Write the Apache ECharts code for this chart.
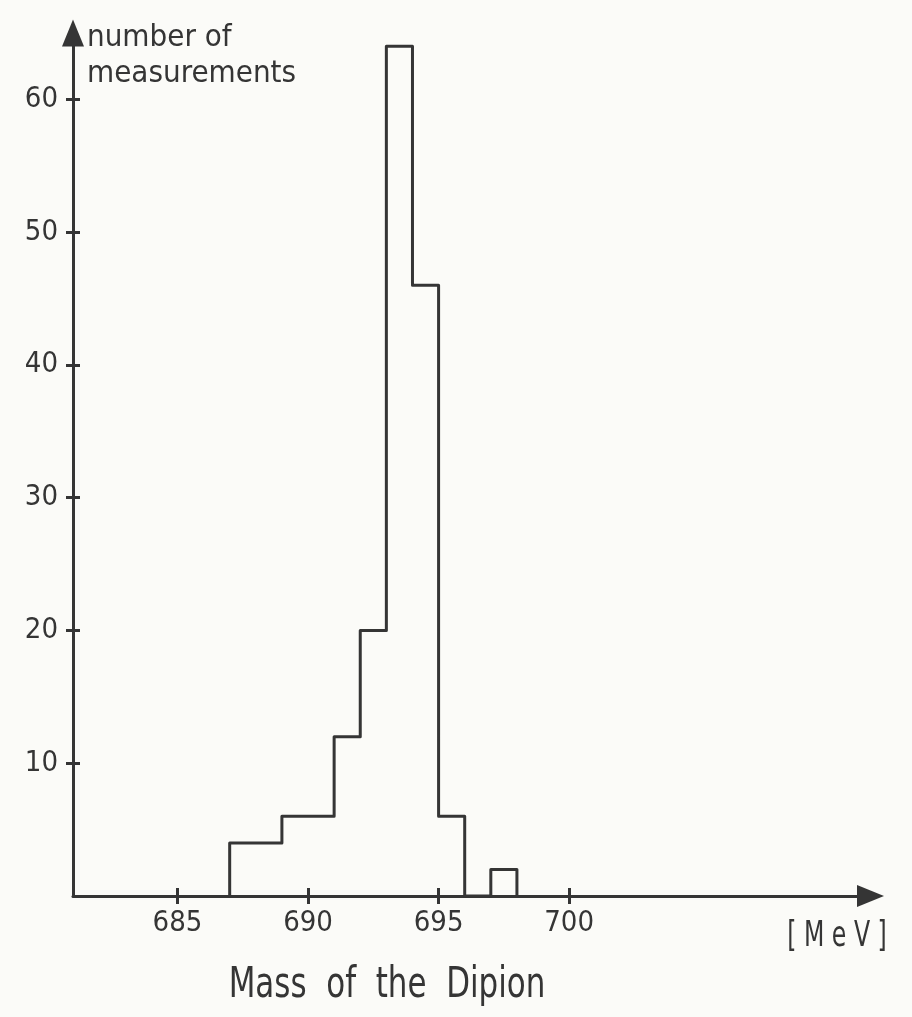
<!DOCTYPE html>
<html>
<head>
<meta charset="utf-8">
<script src="https://cdn.jsdelivr.net/npm/echarts@6/dist/echarts.min.js"></script>
<style>
html,body{margin:0;padding:0;background:#fbfbf8;}
#main{width:912px;height:1017px;}
</style>
</head>
<body>
<div id="main"></div>
<script>
//------------------ data ------------------
// 1 MeV bins, left edge of each bin
var binStart = [687, 688, 689, 690, 691, 692, 693, 694, 695, 696, 697];
var counts   = [4, 4, 6, 6, 12, 20, 64, 46, 6, 0, 2];
var binWidth = 1;
var xTicks = [685, 690, 695, 700];
var yTicks = [10, 20, 30, 40, 50, 60];

var ink = '#353535';
var cond = '"DejaVu Sans Condensed", sans-serif';

// outline of the histogram (step line, no inner dividers)
var steps = [];
steps.push([binStart[0], 0]);
for (var i=0;i<binStart.length;i++){
    steps.push([binStart[i], counts[i]]);
}
steps.push([binStart[binStart.length-1]+binWidth, 0]);

var dom = document.getElementById("main");
var myChart = echarts.init(dom);

var tickStyle = {color: ink, width: 3};
var xMin = 681, xMax = 711.54, yMin = 0, yMax = 65;

var option = {
    backgroundColor: '#fbfbf8',
    animation: false,
    grid: {
        left: 73,
        right: 41.5,
        top: 33,
        bottom: 121
    },
    xAxis: [
        {
            type: 'value',
            position: 'bottom',
            min: xMin,
            max: xMax,
            axisLine: {
                show: true,
                onZero: false,
                symbol: ['none', 'triangle'],
                symbolSize: [22, 27],
                lineStyle: {color: ink, width: 3}
            },
            axisTick: {show: true, length: 8, customValues: xTicks, lineStyle: tickStyle},
            axisLabel: {
                customValues: xTicks,
                margin: 13,
                fontFamily: cond,
                fontSize: 29,
                color: ink
            },
            splitLine: {show: false}
        },
        {
            // second axis only for the inner half of the crossing ticks
            type: 'value',
            position: 'bottom',
            min: xMin,
            max: xMax,
            axisLine: {show: false, onZero: false},
            axisTick: {show: true, inside: true, length: 8, customValues: xTicks, lineStyle: tickStyle},
            axisLabel: {show: false},
            splitLine: {show: false}
        }
    ],
    yAxis: [
        {
            type: 'value',
            position: 'left',
            min: yMin,
            max: yMax,
            axisLine: {
                show: true,
                onZero: false,
                symbol: ['none', 'triangle'],
                symbolSize: [22, 27],
                lineStyle: {color: ink, width: 3}
            },
            axisTick: {show: true, length: 7, customValues: yTicks, lineStyle: tickStyle},
            axisLabel: {
                customValues: yTicks,
                margin: 15,
                fontFamily: cond,
                fontSize: 29,
                color: ink
            },
            splitLine: {show: false}
        },
        {
            type: 'value',
            position: 'left',
            min: yMin,
            max: yMax,
            axisLine: {show: false, onZero: false},
            axisTick: {show: true, inside: true, length: 7, customValues: yTicks, lineStyle: tickStyle},
            axisLabel: {show: false},
            splitLine: {show: false}
        }
    ],
    graphic: [
        {
            type: 'text', left: 87, top: 22,
            style: {text: 'number of', font: '31px ' + cond, fill: ink}
        },
        {
            type: 'text', left: 87, top: 58,
            style: {text: 'measurements', font: '31px ' + cond, fill: ink}
        },
        {
            type: 'text', x: 387, y: 986, scaleX: 0.8,
            style: {text: 'Mass  of  the  Dipion', font: '43px ' + cond, fill: ink, align: 'center', verticalAlign: 'middle'}
        },
        {
            type: 'text', x: 837, y: 937, scaleX: 0.75,
            style: {text: '[ M e V ]', font: '35px ' + cond, fill: ink, align: 'center', verticalAlign: 'middle'}
        }
    ],
    series: [
        {
            name: 'Dipion mass',
            type: 'line',
            step: 'end',
            data: steps,
            showSymbol: false,
            clip: false,
            lineStyle: {color: ink, width: 3, join: 'round'},
            z: 5
        },
        {
            // same outline on the helper axes, kept invisible, so they get an extent
            name: 'helper',
            type: 'line',
            xAxisIndex: 1,
            yAxisIndex: 1,
            data: steps,
            showSymbol: false,
            silent: true,
            lineStyle: {opacity: 0}
        }
    ]
};
if (option && typeof option === "object") {
    myChart.setOption(option, true);
}
</script>
</body>
</html>
